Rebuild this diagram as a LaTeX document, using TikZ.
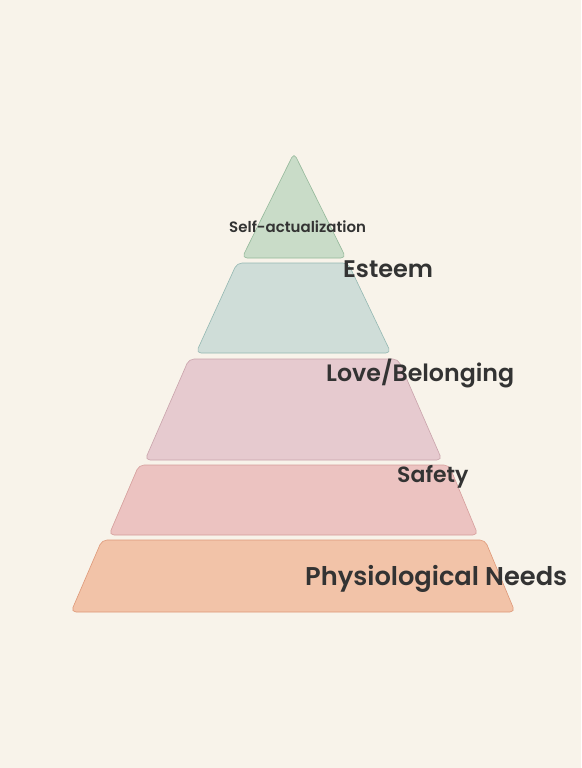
\documentclass[tikz,border=0pt]{standalone}
\usepackage{xcolor}
\usepackage{fontspec}
\newfontfamily\tierfont{Poppins}[UprightFont=*, BoldFont=* SemiBold]
\usepackage{tikz}

\definecolor{paper}{HTML}{F8F3EA}
\definecolor{inktext}{HTML}{333333}
\definecolor{selfFill}{HTML}{C9DCC8}
\definecolor{selfLine}{HTML}{94B89A}
\definecolor{esteemFill}{HTML}{CFDDD8}
\definecolor{esteemLine}{HTML}{94B8B2}
\definecolor{loveFill}{HTML}{E6CACF}
\definecolor{loveLine}{HTML}{C9A3AB}
\definecolor{safeFill}{HTML}{ECC3C1}
\definecolor{safeLine}{HTML}{D59E9C}
\definecolor{physFill}{HTML}{F2C3A8}
\definecolor{physLine}{HTML}{DE9878}

\tikzset{
  tier/.style={rounded corners=5pt, line width=0.6pt},
  tierlabel/.style={anchor=base west, inner sep=0pt, text=inktext, font=\tierfont\bfseries}
}

\begin{document}
\begin{tikzpicture}[x=1pt,y=-1pt]
\fill[paper] (0,0) rectangle (581,768);
\useasboundingbox (0,0) rectangle (581,768);
\draw[tier, fill=physFill, draw=physLine] (71,612) -- (102,540) -- (485,540) -- (515,612) -- cycle;
\draw[tier, fill=safeFill, draw=safeLine] (109,535) -- (139,465) -- (449,465) -- (478,535) -- cycle;
\draw[tier, fill=loveFill, draw=loveLine] (145,460) -- (189,359) -- (398,359) -- (442,460) -- cycle;
\draw[tier, fill=esteemFill, draw=esteemLine] (196,353) -- (237,263) -- (348,263) -- (391,353) -- cycle;
\draw[tier, fill=selfFill, draw=selfLine] (242,258) -- (294,153) -- (346,258) -- cycle;
\node[tierlabel, font=\tierfont\bfseries\fontsize{15}{18}\selectfont] (selfLabel) at (229,232) {Self-actualization};
\node[tierlabel, font=\tierfont\bfseries\fontsize{24}{28}\selectfont] (esteemLabel) at (343,277) {Esteem};
\node[tierlabel, font=\tierfont\bfseries\fontsize{23.7}{28}\selectfont] (loveLabel) at (326,381) {Love/Belonging};
\node[tierlabel, font=\tierfont\bfseries\fontsize{22}{26}\selectfont] (safeLabel) at (397,482) {Safety};
\node[tierlabel, font=\tierfont\bfseries\fontsize{25.7}{30}\selectfont] (physLabel) at (305,585) {Physiological Needs};
\end{tikzpicture}
\end{document}
